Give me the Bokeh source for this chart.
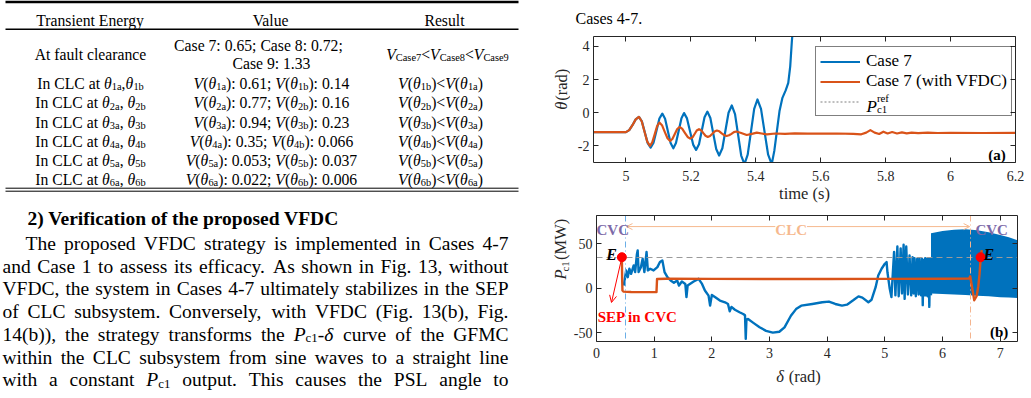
from bokeh.plotting import figure
from bokeh.layouts import row, column
from bokeh.models import (ColumnDataSource, Range1d, LinearAxis, FixedTicker, Label,
                          Legend, LegendItem, Arrow, OpenHead)
from bokeh.core.properties import value
from bokeh.embed import file_html
from bokeh.resources import INLINE
import math

SERIF = "Liberation Serif"
INK = "#000000"
AX = "#262626"
BLUE = "#0072BD"
ORANGE = "#D95319"

# ---------------- Table: transient energy comparison ----------------
table_header = ["Transient Energy", "Value", "Result"]
clearance_cases = ["Case 7", "Case 8", "Case 9"]
clearance_energy = [0.65, 0.72, 1.33]
clc_index = [1, 2, 3, 4, 5, 6]
v_theta_a = [0.61, 0.77, 0.94, 0.35, 0.053, 0.022]
v_theta_b = [0.14, 0.16, 0.23, 0.066, 0.037, 0.006]

# ---------------- Fig. (a): power angle vs time ----------------
case7_t = [4.90, 5.000, 5.010, 5.020, 5.030, 5.040, 5.049, 5.058, 5.067, 5.076, 5.085, 5.094,
           5.103, 5.112, 5.1205, 5.129, 5.1375, 5.146, 5.154, 5.1625, 5.171, 5.179, 5.188,
           5.1975, 5.207, 5.216, 5.225, 5.2335, 5.242, 5.251, 5.260, 5.269, 5.278, 5.287,
           5.297, 5.3065, 5.316, 5.326, 5.336, 5.3455, 5.355, 5.365, 5.375, 5.385, 5.395,
           5.405, 5.416, 5.427, 5.438, 5.449, 5.457, 5.465, 5.473, 5.482, 5.492, 5.500,
           5.506, 5.511, 5.516]
case7_theta = [-1.17, -1.17, -1.05, -0.75, -0.40, -0.25, -0.52, -1.18, -1.83, -2.10, -1.80, -1.08,
               -0.35, -0.05, -0.36, -1.10, -1.83, -2.14, -1.83, -1.08, -0.33, -0.02, -0.34,
               -1.13, -1.92, -2.24, -1.90, -1.09, -0.27, 0.07, -0.32, -1.26, -2.19, -2.58,
               -2.14, -1.07, 0.00, 0.44, -0.08, -1.33, -2.58, -3.10, -2.53, -1.15, 0.23,
               0.80, 0.23, -1.15, -2.53, -3.10, -2.30, -1.10, 0.10, 0.90, 1.35, 1.80,
               2.80, 4.30, 5.50]
vfdc_t = [4.90, 5.000, 5.010, 5.020, 5.030, 5.040, 5.0485, 5.057, 5.0655, 5.074, 5.081, 5.0885,
          5.096, 5.103, 5.111, 5.1195, 5.128, 5.136, 5.143, 5.1505, 5.158, 5.165, 5.173, 5.1815,
          5.190, 5.198, 5.205, 5.2115, 5.218, 5.225, 5.232, 5.2385, 5.245, 5.252, 5.259, 5.266,
          5.273, 5.280, 5.2875, 5.295, 5.3025, 5.310, 5.3175, 5.325, 5.3325, 5.340, 5.355,
          5.372, 5.388, 5.403, 5.418, 5.434, 5.46, 5.49, 5.52, 5.56, 5.60, 5.65, 5.70, 5.725,
          5.740, 5.753, 5.766, 5.78, 5.793, 5.806, 5.82, 5.835, 5.85, 5.865, 5.88, 5.90, 5.93,
          5.96, 6.0, 6.1, 6.2]
vfdc_theta = [-1.17, -1.17, -1.05, -0.75, -0.40, -0.25, -0.51, -1.13, -1.74, -2.00, -1.79, -1.30,
              -0.80, -0.59, -0.75, -1.15, -1.54, -1.70, -1.58, -1.28, -0.98, -0.86, -0.96, -1.21,
              -1.46, -1.56, -1.48, -1.28, -1.07, -0.99, -1.06, -1.23, -1.39, -1.46, -1.40, -1.27,
              -1.13, -1.07, -1.12, -1.24, -1.35, -1.40, -1.36, -1.27, -1.17, -1.13, -1.22,
              -1.34, -1.27, -1.20, -1.25, -1.30, -1.25, -1.27, -1.24, -1.26, -1.26, -1.25, -1.27,
              -1.30, -1.20, -1.05, -1.20, -1.28, -1.14, -1.25, -1.16, -1.25, -1.18, -1.24, -1.20,
              -1.23, -1.20, -1.22, -1.21, -1.22, -1.21]
time_ticks = [5, 5.2, 5.4, 5.6, 5.8, 6, 6.2]
theta_ticks = [-2, 0, 2, 4]

# ---------------- Fig. (b): Pc1 vs delta ----------------
case7_delta = [0.474, 0.514, 0.542, 0.57, 0.60, 0.645, 0.67, 0.70, 0.714, 0.73, 0.77, 0.80, 0.83,
               0.868, 0.89, 0.93, 0.99, 1.056, 1.10, 1.142, 1.18, 1.23, 1.285, 1.342, 1.40, 1.43,
               1.48, 1.54, 1.56, 1.58, 1.685, 1.77, 1.83, 1.88, 1.943, 1.97, 2.0, 2.06, 2.14,
               2.228, 2.28, 2.31, 2.34, 2.40, 2.48, 2.543, 2.575, 2.588, 2.60, 2.628, 2.72, 2.828,
               2.94, 3.057, 3.17, 3.26, 3.371, 3.46, 3.55, 3.743, 3.914, 4.03, 4.14, 4.257, 4.343,
               4.457, 4.543, 4.61, 4.714, 4.77, 4.84, 4.885, 4.943, 5.0, 5.03, 5.045, 5.085, 5.114,
               5.16, 5.183, 5.217, 5.24, 5.274, 5.297, 5.325, 5.343, 5.371, 5.40, 5.428, 5.457,
               5.48, 5.50, 5.514, 5.537, 5.56, 5.585, 5.60, 5.628, 5.645, 5.657, 5.67, 5.685,
               5.70, 5.714, 5.73, 5.743, 5.755, 5.771, 5.785, 5.80]
case7_p = [3.1, 20.1, 12.5, 22.0, 16.3, 25.7, 18.2, 38.0, 42.7, 18.2, 23.8, 33.3, 18.2,
           40.9, 20.1, 22.0, 20.1, 23.8, 29.5, 31.4, 18.2, 12.5, 8.7, 6.1, 8.7, 3.1,
           7.6, 4.9, -10.0, 3.1, 7.6, 10.6, 4.9, -2.6, -8.3, -19.6, -7.5, -10.2, -13.9,
           -15.8, -17.7, -26.0, -21.0, -24.2, -27.0, -29.0, -30.5, -57.0, -35.0, -34.7, -39.0, -44.0,
           -48.0, -50.0, -49.0, -44.0, -31.0, -23.5, -19.6, -17.7, -15.8, -15.0, -17.7, -19.6, -18.5,
           -13.3, -9.1, -10.6, -15.8, -12.9, 1.2, 14.4, 22.0, 27.6, 29.5, 18.0, -0.7, -10.0,
           41.0, -8.0, 47.0, -9.0, 45.0, -6.0, 49.0, -12.0, 47.0, -7.0, 37.0, -8.0,
           35.0, -6.0, 34.0, -9.0, 33.0, -7.0, 34.0, -8.0, 33.0, -19.0, 32.0, -8.0,
           34.0, -8.0, 33.0, -9.0, 34.0, -21.0, 34.0, -8.0]
# fast oscillation after 5.8 rad fills a band: its upper and lower envelopes
band_delta = [5.80, 6.0, 6.2, 6.4, 6.6, 6.8, 7.0, 7.15, 7.3]
band_upper = [62.0, 64.5, 66.0, 66.5, 65.5, 63.0, 60.0, 57.5, 54.0]
band_lower = [-6.0, -6.5, -7.0, -7.5, -8.5, -9.0, -10.0, -10.5, -11.0]
vfdc_delta = [0.44, 0.445, 0.45, 0.47, 0.60, 0.80, 1.04, 1.05, 1.20, 2.0, 3.0, 4.0, 5.0, 6.0,
              6.46, 6.48, 6.51, 6.55, 6.59, 6.62, 6.64, 6.66, 6.68]
vfdc_p = [35.0, 10.0, -2.5, -3.8, -4.2, -4.3, -4.3, 10.5, 10.8, 10.6, 10.4, 10.5, 10.6, 10.8,
          11.0, 13.5, 2.0, -13.5, -9.0, 2.0, 15.0, 32.0, 43.0]
p_ref = 35.0
sep_delta = [0.44, 6.66]
sep_p = [35.0, 35.0]
cvc_to_clc = 0.50
clc_to_cvc = 6.49
delta_ticks = [0, 1, 2, 3, 4, 5, 6, 7]
p_ticks = [-50, 0, 50]

# ---------------- text measuring (Times metrics) ----------------
def _widths(groups):
    d = {}
    for chars, w in groups:
        for c in chars:
            d[c] = w
    return d

W_ROMAN = _widths([(" .,", 250), ("ijlt:;", 278), ("frI()-", 333), ("sJ", 389), ("acez", 444),
                   ("bdghknopquvxy0123456789θδ", 500), ("FPS", 556), ("<=+", 564),
                   ("ELTZ", 611), ("BCR", 667), ("ADGHKNOQUVXYw", 722), ("m", 778),
                   ("M", 889), ("W", 944)])
W_ITALIC = dict(W_ROMAN)
W_ITALIC.update(_widths([("PVE", 611), ("θδ", 500)]))
W_BOLD = _widths([(" .,", 250), ("ijl", 278), ("ft()-I:", 333), ("s", 389), ("cer", 444),
                  ("agovxy0123456789J", 500), ("bdhknpqu", 556), ("FPT", 611), ("S", 556),
                  ("ELZB", 667), ("ACDGHNORUVXYw", 722), ("K", 778), ("m", 833),
                  ("M", 944), ("W", 1000)])

def measure(text, style, size):
    if "bold" in style:
        tbl = W_BOLD
    elif style == "italic":
        tbl = W_ITALIC
    else:
        tbl = W_ROMAN
    return sum(tbl.get(c, 500) for c in text) * size / 1000.0

STYLE = {"n": "normal", "i": "italic", "b": "bold", "bi": "bold italic"}

def expand(pieces, size):
    out = []
    for text, kind in pieces:
        if kind == "s":
            fs, style, shift = size * 0.66, "normal", 0.2 * size
        elif kind == "S":
            fs, style, shift = size * 0.66, "normal", -0.55 * size
        else:
            fs, style, shift = size, STYLE[kind], 0.0
        out.append((text, style, fs, shift, measure(text, style, fs)))
    return out


class TextBatch:
    """Collects styled text runs and draws them as text glyphs, one call per style."""

    def __init__(self):
        self.runs = {}

    def put(self, x, y, text, style, size, angle=0.0, baseline="alphabetic"):
        d = self.runs.setdefault((style, round(size, 2), angle, baseline),
                                 {"x": [], "y": [], "text": []})
        d["x"].append(x)
        d["y"].append(y)
        d["text"].append(text)

    def rich(self, pieces, x, y, size, align="left", angle=0.0):
        parts = expand(pieces, size)
        total = sum(p[4] for p in parts)
        pos = -total / 2.0 if align == "center" else 0.0
        for text, style, fs, shift, w in parts:
            body = text.lstrip(" ")
            lead = measure(text[:len(text) - len(body)], style, fs)
            if angle == 0.0:
                self.put(x + pos + lead, y + shift, body, style, fs)
            else:
                # rotated a quarter turn: the run climbs upward, "below the baseline" is +x;
                # anchored on the glyph middle so the whole run stays inside its strip
                self.put(x + (shift * 1.25 if shift else 0.0), y + pos + lead, body, style, fs,
                         angle, "middle")
            pos += w

    def justified(self, line, x0, x1, y, size):
        words = [[(w, "n")] if isinstance(w, str) else w for w in
                 (line.split() if isinstance(line, str) else line)]
        parts_list = [expand(w, size) for w in words]
        widths = [sum(p[4] for p in parts) for parts in parts_list]
        gap = (x1 - x0 - sum(widths)) / (len(words) - 1)
        cx = x0
        for parts, w in zip(parts_list, widths):
            for text, style, fs, shift, pw in parts:
                self.put(cx, y + shift, text, style, fs)
                cx += pw
            cx += gap

    def draw(self, fig, color=INK):
        for (style, size, angle, baseline), d in self.runs.items():
            fig.text(x="x", y="y", text="text", source=ColumnDataSource(d), angle=angle,
                     text_font=value(SERIF), text_font_size=value(f"{size}px"),
                     text_font_style=value(style), text_color=color,
                     text_baseline=baseline, text_align="left")


def canvas(width, height, xr, yr):
    f = figure(width=width, height=height, x_range=Range1d(*xr), y_range=Range1d(*yr),
               output_backend="svg", toolbar_location=None,
               x_axis_location=None, y_axis_location=None,
               min_border_left=0, min_border_right=0, min_border_top=0, min_border_bottom=0,
               outline_line_color=None, background_fill_color="white", border_fill_color="white")
    f.grid.visible = False
    return f

# ---------------- left page: table and paragraph ----------------
page = canvas(540, 398, (0, 540), (398, 0))
page.segment(x0=[5], y0=[1.4], x1=[518], y1=[1.4], line_color=INK, line_width=2.6)
page.segment(x0=[5], y0=[28.8], x1=[518], y1=[28.8], line_color=INK, line_width=1.4)
page.segment(x0=[5, 5], y0=[187.7, 190.7], x1=[518, 518], y1=[187.7, 190.7],
             line_color=INK, line_width=1.0)

txt = TextBatch()
TBL = 15.7
COLS = [90, 271, 444]
for name, cx in zip(table_header, COLS):
    txt.rich([(name, "n")], cx, 19.5, TBL, "center")

txt.rich([("At fault clearance", "n")], COLS[0], 54.0, TBL, "center")
txt.rich([(f"{clearance_cases[0]}: {clearance_energy[0]:g}; "
           f"{clearance_cases[1]}: {clearance_energy[1]:g};", "n")], 258, 45.0, TBL, "center")
txt.rich([(f"{clearance_cases[2]}: {clearance_energy[2]:g}", "n")], COLS[1], 63.3, TBL, "center")
order = []
for i, case in enumerate(clearance_cases):
    if i:
        order.append(("<", "n"))
    order += [("V", "i"), (case.replace(" ", ""), "s")]
txt.rich(order, 447, 53.5, TBL, "center")

for k, idx in enumerate(clc_index):
    yb = 83.3 + k * 19.15
    sep = "," if k == 0 else ", "
    txt.rich([("In CLC at ", "n"), ("θ", "i"), (f"{idx}a", "s"), (sep, "n"),
              ("θ", "i"), (f"{idx}b", "s")], COLS[0], yb, TBL, "center")
    txt.rich([("V", "i"), ("(", "n"), ("θ", "i"), (f"{idx}a", "s"),
              (f"): {v_theta_a[k]:g}; ", "n"), ("V", "i"), ("(", "n"), ("θ", "i"),
              (f"{idx}b", "s"), (f"): {v_theta_b[k]:g}", "n")], COLS[1], yb, TBL, "center")
    txt.rich([("V", "i"), ("(", "n"), ("θ", "i"), (f"{idx}b", "s"), (")<", "n"),
              ("V", "i"), ("(", "n"), ("θ", "i"), (f"{idx}a", "s"), (")", "n")],
             440, yb, TBL, "center")

PAR = 19.5
txt.rich([("2) Verification of the proposed VFDC", "b")], 27, 218.0, PAR)
PC1 = [("P", "i"), ("c1", "s")]
body = [
    ("The proposed VFDC strategy is implemented in Cases 4-7", 25),
    ("and Case 1 to assess its efficacy. As shown in Fig. 13, without", 2),
    ("VFDC, the system in Cases 4-7 ultimately stabilizes in the SEP", 2),
    ("of CLC subsystem. Conversely, with VFDC (Fig. 13(b), Fig.", 2),
    (["14(b)),", "the", "strategy", "transforms", "the", PC1 + [("-", "n"), ("δ", "i")],
      "curve", "of", "the", "GFMC"], 2),
    ("within the CLC subsystem from sine waves to a straight line", 2),
    (["with", "a", "constant", PC1, "output.", "This", "causes", "the", "PSL", "angle", "to"], 2),
]
for k, (line, x0) in enumerate(body):
    txt.justified(line, x0, 508, 243.0 + k * 22.7, PAR)
txt.draw(page)

# ---------------- plot helpers ----------------
def box_axes(fig, xticks, yticks, x_standoff, y_standoff):
    common = dict(axis_line_color=AX, axis_line_width=1.0, major_tick_line_color=AX,
                  major_tick_line_width=1.0, major_tick_in=5, major_tick_out=0,
                  minor_tick_line_color=None, major_label_text_font=SERIF)
    axes = {}
    for side, ticks in (("below", xticks), ("left", yticks), ("above", xticks), ("right", yticks)):
        shown = side in ("below", "left")
        if shown:
            extra = dict(major_label_overrides={t: f"{t:g}" for t in ticks},
                         major_label_text_font_size="14px", major_label_text_color=AX,
                         major_label_standoff=x_standoff if side == "below" else y_standoff)
        else:
            extra = dict(major_label_text_font_size="1px", major_label_text_color=None,
                         major_label_standoff=0)
        ax = LinearAxis(ticker=FixedTicker(ticks=ticks), **common, **extra)
        fig.add_layout(ax, side)
        axes[side] = ax
    return axes

def new_plot(height, xr, yr, top, bottom, right):
    f = figure(width=461, height=height, x_range=Range1d(*xr), y_range=Range1d(*yr),
               output_backend="svg", toolbar_location=None,
               x_axis_location=None, y_axis_location=None,
               min_border_left=23, min_border_right=right, min_border_top=top,
               min_border_bottom=bottom, outline_line_color=None,
               background_fill_color="white", border_fill_color="white")
    f.grid.visible = False
    return f

# ---------------- caption line above the plots ----------------
cap = canvas(491, 30, (540, 1031), (30, 0))
cap_txt = TextBatch()
cap_txt.rich([("Cases 4-7.", "n")], 575, 18, 16)
cap_txt.draw(cap)

# ---------------- Fig. (a) ----------------
A_L, A_R, A_T, A_B = 593.0, 1015.0, 36.0, 162.0
A_X, A_Y = (4.9, 6.2), (-3.0, 4.6)
pa = new_plot(176, A_X, A_Y, 6, 44, 16)
axa = box_axes(pa, time_ticks, theta_ticks, 8, 4)
axa["below"].axis_label = "time (s)"
axa["below"].axis_label_standoff = 0
axa["below"].axis_label_text_font = SERIF
axa["below"].axis_label_text_font_size = "16.5px"
axa["below"].axis_label_text_font_style = "normal"
axa["below"].axis_label_text_color = AX

r_case7 = pa.line(case7_t, case7_theta, line_color=BLUE, line_width=2.2, line_join="round")
r_vfdc = pa.line(vfdc_t, vfdc_theta, line_color=ORANGE, line_width=2.2, line_join="round")
r_ref = pa.line(x=[float("nan")], y=[float("nan")], line_color="#7f7f7f", line_width=1,
                line_dash="2 2")
legend = Legend(items=[LegendItem(label="Case 7", renderers=[r_case7]),
                       LegendItem(label="Case 7 (with VFDC)", renderers=[r_vfdc]),
                       LegendItem(label="\u200b", renderers=[r_ref])],
                location=(222, 46), label_text_font=SERIF, label_text_font_size="17px",
                label_text_color=INK, glyph_width=40, glyph_height=19, label_height=19,
                label_standoff=6, spacing=0, padding=4, margin=0,
                border_line_color=INK, border_line_width=1,
                background_fill_alpha=0.0)
pa.add_layout(legend)

def a_x(px):
    return A_X[0] + (px - A_L) * (A_X[1] - A_X[0]) / (A_R - A_L)

def a_y(py):
    return A_Y[0] + (A_B - py) * (A_Y[1] - A_Y[0]) / (A_B - A_T)

a_scale = (A_Y[1] - A_Y[0]) / (A_B - A_T)
leg_txt = TextBatch()
p_w = measure("P", "italic", 17)
LEG_P = 105.5
leg_txt.rich([("P", "i")], a_x(866), a_y(LEG_P), 17)
leg_txt.put(a_x(866 + p_w), a_y(LEG_P) - 0.18 * 17 * a_scale, "c1", "normal", 17 * 0.64)
leg_txt.put(a_x(866 + p_w), a_y(LEG_P) + 0.48 * 17 * a_scale, "ref", "normal", 17 * 0.64)
leg_txt.draw(pa)

pa.add_layout(Label(x=6.17, y=-2.54, text="(a)", text_font=SERIF, text_font_size="15px",
                    text_font_style="bold", text_color=INK, text_align="right",
                    text_baseline="alphabetic"))

ya = canvas(30, 176, (540, 570), (0, 176))
ya_txt = TextBatch()
ya_txt.rich([("θ", "i"), (" (rad)", "n")], 561.0, 206 - 110, 16.5, align="center",
            angle=math.pi / 2)
ya_txt.draw(ya, color=AX)

# ---------------- Fig. (b) ----------------
pb = new_plot(157, (0, 7.3), (-60, 82), 9, 22, 14)
box_axes(pb, delta_ticks, p_ticks, 6, 4)
pb.line(case7_delta, case7_p, line_color=BLUE, line_width=2.4, line_join="round")
pb.varea(x=band_delta, y1=band_lower, y2=band_upper, fill_color=BLUE)
pb.hspan(y=[p_ref], line_color="#9a9a9a", line_width=1.2, line_dash="6 4")
pb.vspan(x=[cvc_to_clc], line_color="#6aaee6", line_width=1, line_dash="6 3 1 3")
pb.vspan(x=[clc_to_cvc], line_color="#f4b48e", line_width=1, line_dash="6 3 1 3")
pb.line(vfdc_delta, vfdc_p, line_color=ORANGE, line_width=2.4, line_join="round")
pb.scatter(sep_delta, sep_p, size=9, color="#ff0000")

CLC_C = "#f6b98f"
CVC_C = "#7d6aa8"
pb.add_layout(Arrow(start=OpenHead(size=6, line_color=CLC_C, line_width=1),
                    end=OpenHead(size=6, line_color=CLC_C, line_width=1),
                    x_start=cvc_to_clc + 0.02, y_start=69.5, x_end=clc_to_cvc - 0.02, y_end=69.5,
                    line_color=CLC_C, line_width=1))
pb.add_layout(Label(x=(cvc_to_clc + clc_to_cvc) / 2 - 0.12, y=65.5, text="CLC", text_font=SERIF,
                    text_font_size="15px", text_font_style="bold", text_color=CLC_C,
                    text_align="center", text_baseline="alphabetic",
                    background_fill_color="white", background_fill_alpha=1.0))
for xc in (0.0, 6.57):
    pb.add_layout(Label(x=xc, y=65.5, text="CVC", text_font=SERIF, text_font_size="15px",
                        text_font_style="bold", text_color=CVC_C, text_align="left",
                        text_baseline="alphabetic"))
for xe in (0.17, 6.71):
    pb.add_layout(Label(x=xe, y=37.5, text="E", text_font=SERIF, text_font_size="16px",
                        text_font_style="bold italic", text_color=INK, text_align="left",
                        text_baseline="alphabetic"))
pb.add_layout(Arrow(end=OpenHead(size=7, line_color="#ff0000", line_width=1),
                    x_start=sep_delta[0] - 0.01, y_start=sep_p[0] - 3, x_end=0.26, y_end=-16,
                    line_color="#ff0000", line_width=1))
pb.add_layout(Label(x=0.02, y=-32.3, text="SEP in CVC", text_font=SERIF, text_font_size="15px",
                    text_font_style="bold", text_color="#ff0000", text_align="left",
                    text_baseline="alphabetic"))
pb.add_layout(Label(x=7.14, y=-49, text="(b)", text_font=SERIF, text_font_size="15px",
                    text_font_style="bold", text_color=INK, text_align="right",
                    text_baseline="alphabetic"))

yb = canvas(30, 157, (540, 570), (0, 157))
yb_txt = TextBatch()
yb_txt.rich([("P", "i"), ("c1", "s"), (" (MW)", "n")], 560.0, 363 - 253, 16.5, align="center",
            angle=math.pi / 2)
yb_txt.draw(yb, color=AX)

xb = canvas(491, 35, (540, 1031), (398, 363))
xb_txt = TextBatch()
xb_txt.rich([("δ", "i"), (" (rad)", "n")], 798, 375.5, 16.5, align="center")
xb_txt.draw(xb, color=AX)

layout = row(page, column(cap, row(ya, pa), row(yb, pb), xb))
open("out.html", "w").write(file_html(layout, INLINE))
